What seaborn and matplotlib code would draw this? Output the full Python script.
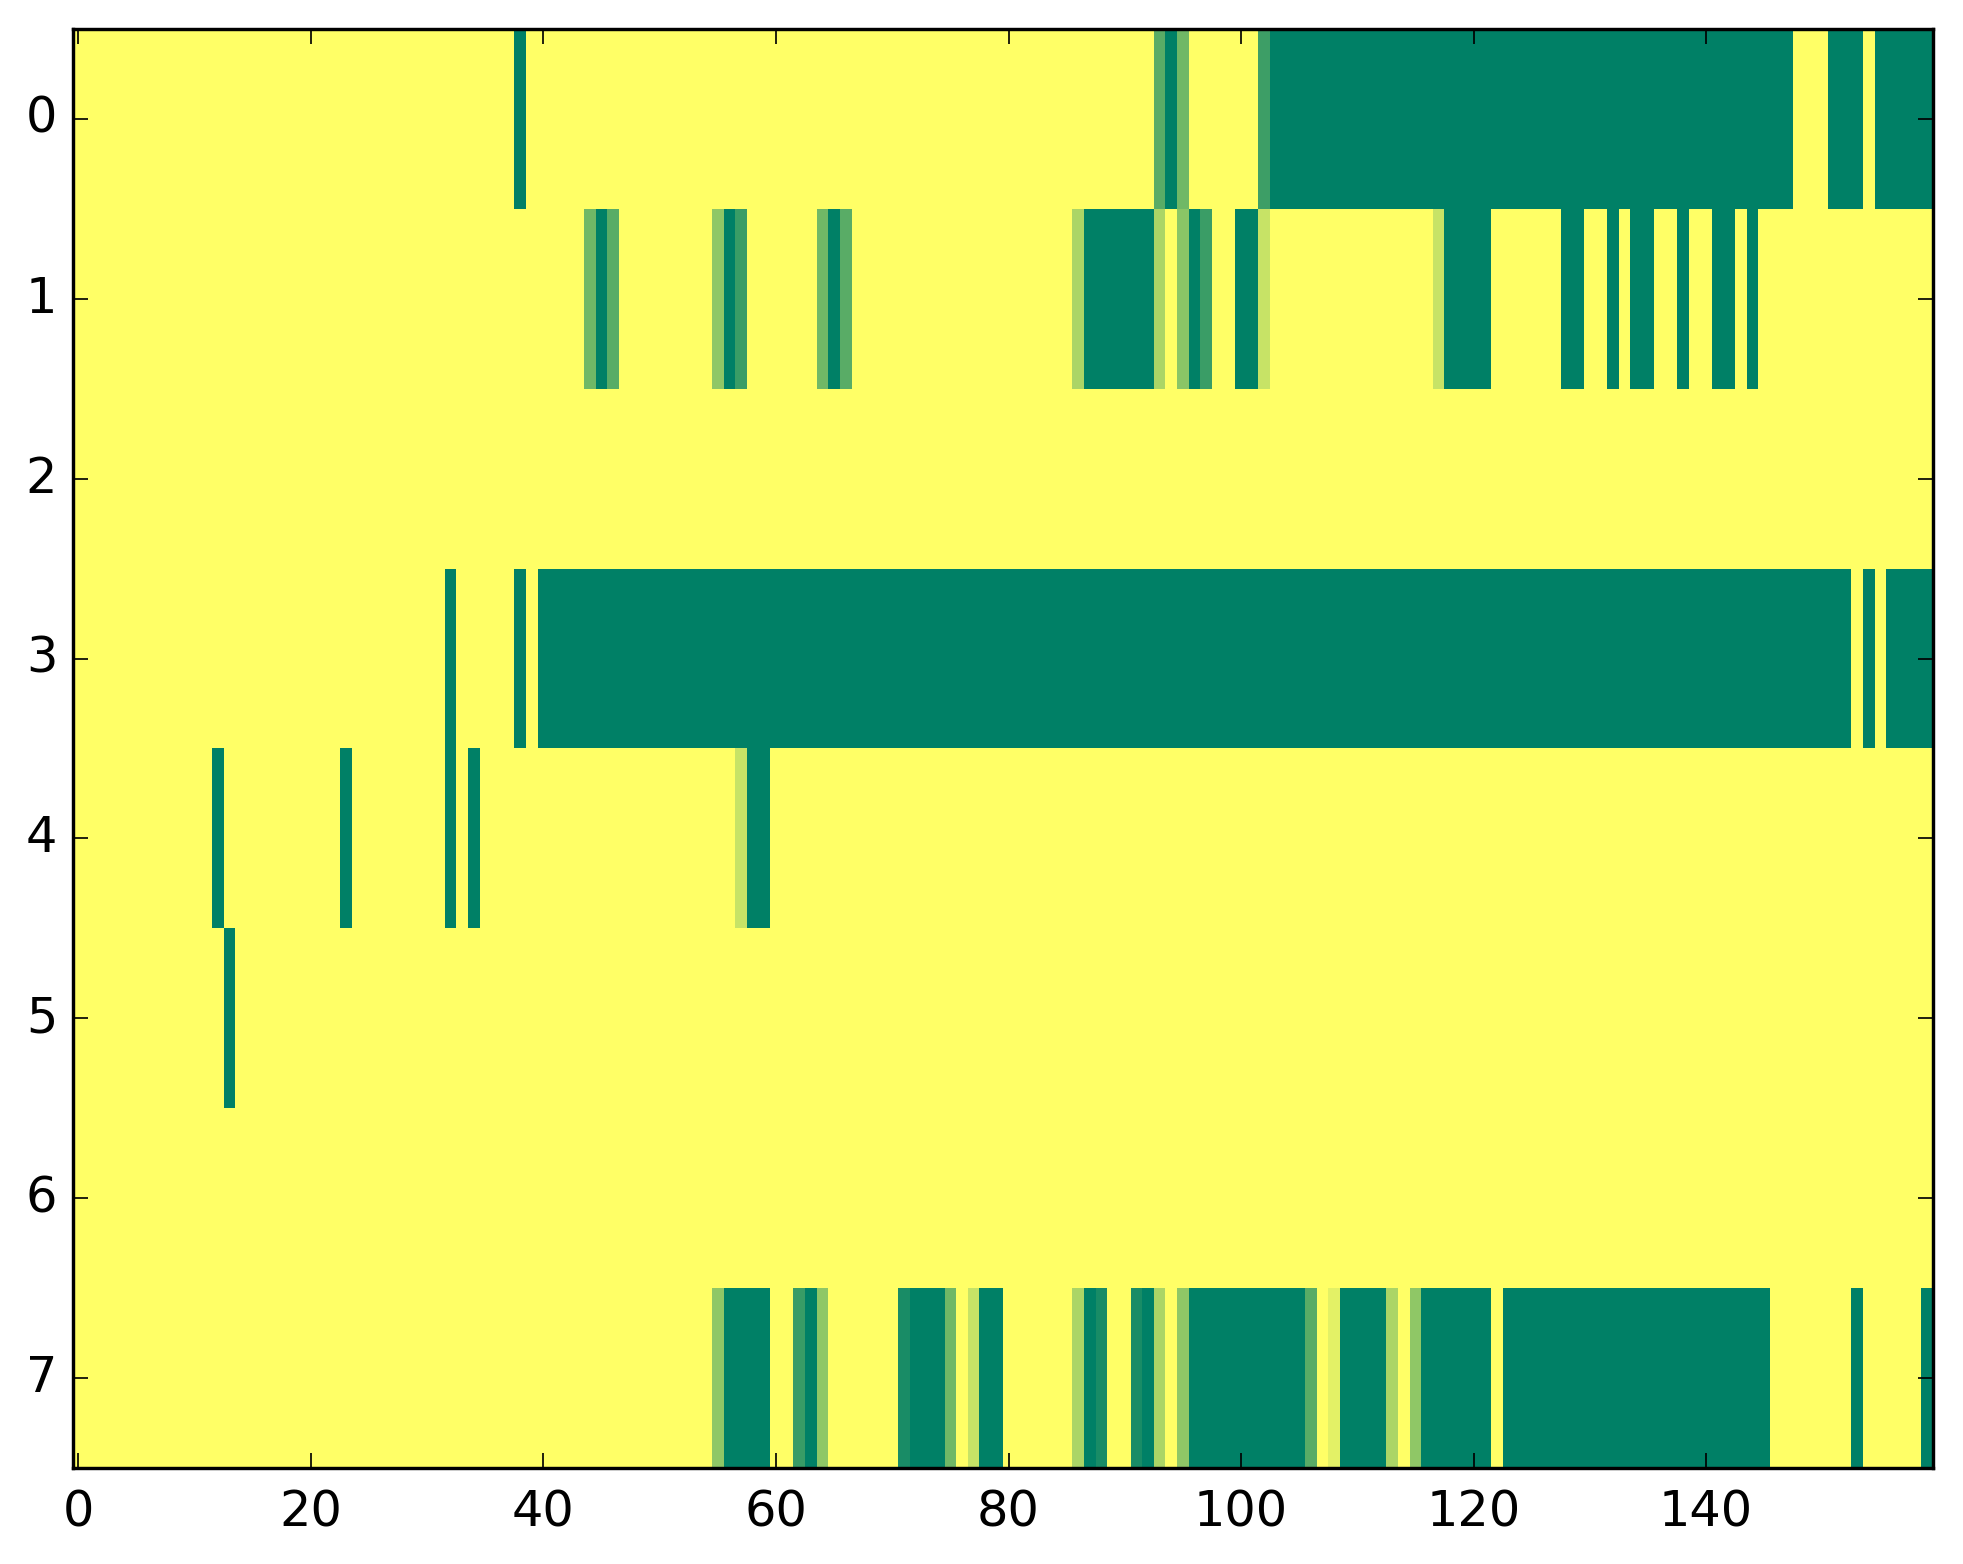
import numpy as np
import seaborn as sns
import matplotlib.pyplot as plt

# each run: (first column, last column, value); everything else is 0
row0 = [(38, 38, 1.0), (93, 93, 0.65), (94, 94, 1.0), (95, 95, 0.56),
        (102, 102, 0.76), (103, 147, 1.0), (151, 153, 1.0), (155, 159, 1.0)]
row1 = [(44, 44, 0.56), (45, 45, 1.0), (46, 46, 0.65),
        (55, 55, 0.44), (56, 56, 1.0), (57, 57, 0.77),
        (64, 64, 0.56), (65, 65, 1.0), (66, 66, 0.65),
        (86, 86, 0.33), (87, 92, 1.0), (93, 93, 0.33), (95, 95, 0.46),
        (96, 96, 1.0), (97, 97, 0.77), (100, 101, 1.0), (102, 102, 0.22),
        (117, 117, 0.22), (118, 121, 1.0), (128, 129, 1.0), (132, 132, 1.0),
        (134, 135, 1.0), (138, 138, 1.0), (141, 142, 1.0), (144, 144, 1.0)]
row2 = []
row3 = [(32, 32, 1.0), (38, 38, 1.0), (40, 152, 1.0), (154, 154, 1.0),
        (156, 159, 1.0)]
row4 = [(12, 12, 1.0), (23, 23, 1.0), (32, 32, 1.0), (34, 34, 1.0),
        (57, 57, 0.22), (58, 59, 1.0)]
row5 = [(13, 13, 1.0)]
row6 = []
row7 = [(55, 55, 0.44), (56, 59, 1.0), (62, 62, 0.78), (63, 63, 1.0),
        (64, 64, 0.44), (71, 71, 0.9), (72, 74, 1.0), (75, 75, 0.56),
        (77, 77, 0.22), (78, 79, 1.0), (86, 86, 0.33), (87, 87, 1.0),
        (88, 88, 0.9), (91, 91, 0.9), (92, 92, 1.0), (93, 93, 0.33),
        (95, 95, 0.44), (96, 105, 1.0), (106, 106, 0.65), (108, 108, 0.11),
        (109, 112, 1.0), (113, 113, 0.33), (115, 115, 0.44), (116, 121, 1.0),
        (123, 145, 1.0), (153, 153, 1.0), (159, 159, 1.0)]

rows = [row0, row1, row2, row3, row4, row5, row6, row7]
n_cols = 160

grid = np.zeros((len(rows), n_cols))
for i, runs in enumerate(rows):
    for first, last, val in runs:
        grid[i, first:last + 1] = val

fig = plt.figure(figsize=(1963 / 245, 1564 / 245), dpi=245)
ax = fig.add_axes([0.0370, 0.0614, 0.9476, 0.9201])
sns.heatmap(grid, ax=ax, cmap="summer_r", vmin=0, vmax=1, cbar=False,
            xticklabels=20, yticklabels=1)

for side in ax.spines.values():
    side.set_visible(True)
    side.set_linewidth(1.0)
    side.set_color("black")

ax.tick_params(direction="in", top=True, right=True, length=4.5, width=0.5,
               labelsize=14.5)
ax.tick_params(axis="x", pad=6)
ax.tick_params(axis="y", pad=4.5)
plt.setp(ax.get_yticklabels(), rotation=0)
plt.setp(ax.get_xticklabels(), rotation=0)

plt.savefig("out.png", dpi=245)
